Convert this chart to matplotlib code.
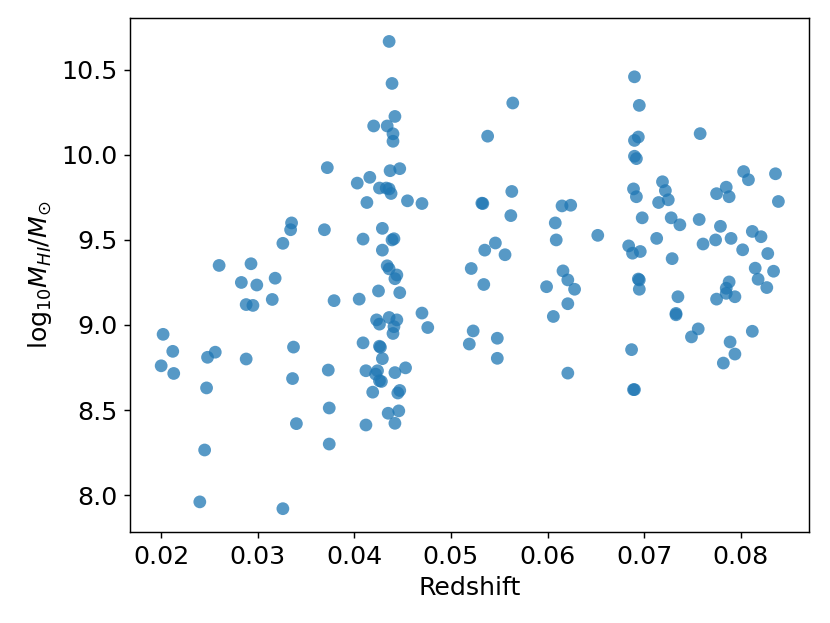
import matplotlib
matplotlib.use("Agg")
import matplotlib.pyplot as plt

redshift = [
    0.0200, 0.0202, 0.0212, 0.0213, 0.0248, 0.0256, 0.0247, 0.0245, 0.0240,
    0.0260, 0.0283, 0.0293, 0.0288, 0.0295, 0.0299, 0.0288, 0.0315, 0.0318,
    0.0326, 0.0334, 0.0335, 0.0337, 0.0336, 0.0340, 0.0326,
    0.0369, 0.0372, 0.0373, 0.0374, 0.0374, 0.0379,
    0.0436, 0.0439, 0.0442, 0.0420, 0.0434, 0.0440, 0.0440, 0.0437, 0.0447,
    0.0416, 0.0403, 0.0426, 0.0433, 0.0436, 0.0438, 0.0413, 0.0455, 0.0470,
    0.0429, 0.0409, 0.0439, 0.0441, 0.0429, 0.0434, 0.0436, 0.0444, 0.0442,
    0.0425, 0.0447, 0.0405, 0.0470, 0.0476, 0.0423, 0.0426, 0.0436, 0.0444,
    0.0441, 0.0440, 0.0409, 0.0426, 0.0427, 0.0429, 0.0412, 0.0424, 0.0422,
    0.0426, 0.0428, 0.0442, 0.0453, 0.0419, 0.0445, 0.0447, 0.0435, 0.0446,
    0.0412, 0.0442,
    0.0538, 0.0532, 0.0535, 0.0521, 0.0534, 0.0523, 0.0519, 0.0564, 0.0563,
    0.0533, 0.0562, 0.0546, 0.0556, 0.0548, 0.0548,
    0.0615, 0.0624, 0.0608, 0.0609, 0.0652, 0.0616, 0.0621, 0.0628, 0.0599,
    0.0621, 0.0606, 0.0621,
    0.0687, 0.0689, 0.0690, 0.0690, 0.0695, 0.0694, 0.0690, 0.0690, 0.0692,
    0.0689, 0.0692, 0.0698, 0.0684, 0.0688, 0.0696, 0.0694, 0.0695, 0.0695,
    0.0758, 0.0803, 0.0836, 0.0808, 0.0719, 0.0785, 0.0722, 0.0775, 0.0788,
    0.0715, 0.0725, 0.0839, 0.0728, 0.0737, 0.0757, 0.0779, 0.0812, 0.0821,
    0.0713, 0.0761, 0.0774, 0.0790, 0.0802, 0.0828, 0.0729, 0.0815, 0.0834,
    0.0818, 0.0827, 0.0788, 0.0785, 0.0785, 0.0775, 0.0794, 0.0735, 0.0733,
    0.0733, 0.0756, 0.0749, 0.0812, 0.0789, 0.0794, 0.0782,
]

log_mhi = [
    8.76, 8.945, 8.845, 8.715, 8.81, 8.84, 8.63, 8.265, 7.96,
    9.35, 9.25, 9.36, 9.12, 9.115, 9.235, 8.80, 9.15, 9.275,
    9.48, 9.56, 9.60, 8.87, 8.685, 8.42, 7.92,
    9.56, 9.925, 8.735, 8.512, 8.30, 9.143,
    10.667, 10.42, 10.226, 10.17, 10.17, 10.124, 10.08, 9.907, 9.919,
    9.868, 9.834, 9.805, 9.805, 9.80, 9.773, 9.72, 9.73, 9.714,
    9.568, 9.505, 9.50, 9.507, 9.44, 9.348, 9.33, 9.294, 9.272,
    9.20, 9.19, 9.152, 9.07, 8.985, 9.03, 9.005, 9.044, 9.03,
    8.99, 8.95, 8.895, 8.875, 8.869, 8.802, 8.731, 8.731, 8.711,
    8.672, 8.668, 8.72, 8.748, 8.605, 8.60, 8.615, 8.481, 8.495,
    8.412, 8.422,
    10.11, 9.716, 9.44, 9.332, 9.238, 8.965, 8.888, 10.305, 9.785,
    9.714, 9.643, 9.482, 9.413, 8.922, 8.804,
    9.70, 9.704, 9.60, 9.50, 9.527, 9.318, 9.265, 9.21, 9.225,
    9.125, 9.05, 8.717,
    8.855, 8.62, 8.62, 10.459, 10.291, 10.105, 10.085, 9.992, 9.978,
    9.80, 9.754, 9.63, 9.465, 9.422, 9.432, 9.27, 9.265, 9.21,
    10.125, 9.902, 9.889, 9.854, 9.842, 9.81, 9.79, 9.772, 9.754,
    9.72, 9.736, 9.726, 9.63, 9.589, 9.62, 9.58, 9.55, 9.519,
    9.509, 9.476, 9.50, 9.509, 9.442, 9.42, 9.39, 9.334, 9.316,
    9.269, 9.22, 9.253, 9.216, 9.186, 9.152, 9.166, 9.166, 9.068,
    9.06, 8.977, 8.930, 8.963, 8.90, 8.829, 8.776,
]

fig = plt.figure(figsize=(8.30 / 1.3, 6.23 / 1.3), dpi=130)
ax = fig.add_axes([0.157, 0.146, 0.818, 0.825])
ax.scatter(redshift, log_mhi, s=50, color="tab:blue", alpha=0.75, edgecolors="none")
ax.set_xlabel("Redshift", fontsize=14)
ax.set_ylabel(r"log$_{10}M_{HI}/M_{\odot}$", fontsize=14)
ax.tick_params(labelsize=14)
ax.set_xticks([0.02, 0.03, 0.04, 0.05, 0.06, 0.07, 0.08])
ax.set_yticks([8.0, 8.5, 9.0, 9.5, 10.0, 10.5])
fig.savefig("out.png", dpi=130)
